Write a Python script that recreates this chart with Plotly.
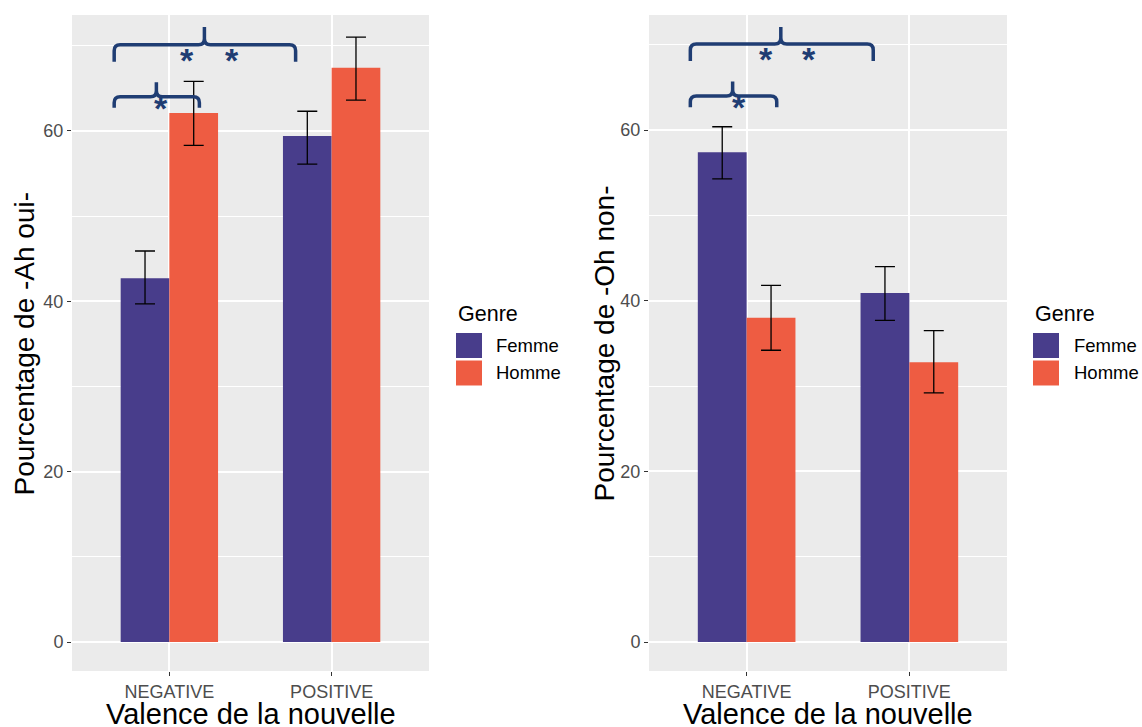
import plotly.graph_objects as go

# ---------------- data ----------------
categories = ["NEGATIVE", "POSITIVE"]
genres = ["Femme", "Homme"]
colors = {"Femme": "#483D8B", "Homme": "#EE5C42"}

# Panel 1 : "Ah oui"
ah_femme_mean = [42.7, 59.4]
ah_femme_low = [39.7, 56.1]
ah_femme_high = [45.9, 62.3]
ah_homme_mean = [62.1, 67.4]
ah_homme_low = [58.3, 63.6]
ah_homme_high = [65.8, 71.0]

# Panel 2 : "Oh non"
oh_femme_mean = [57.4, 40.9]
oh_femme_low = [54.3, 37.7]
oh_femme_high = [60.4, 44.0]
oh_homme_mean = [38.0, 32.8]
oh_homme_low = [34.2, 29.2]
oh_homme_high = [41.8, 36.5]

y_ticks = [0, 20, 40, 60]
y_title_1 = "Pourcentage de -Ah oui-"
y_title_2 = "Pourcentage de -Oh non-"
x_title = "Valence de la nouvelle"
legend_title = "Genre"

# significance braces: (x_left, x_right, x_tip, y_horizontal, y_ends, y_tip)
braces_1 = [(0.660, 1.778, 1.216, 70.1, 68.1, 72.2), (0.660, 1.185, 0.920, 64.0, 62.7, 65.7)]
braces_2 = [(0.654, 1.778, 1.210, 70.1, 68.1, 72.1), (0.654, 1.185, 0.914, 64.0, 62.7, 65.7)]
# stars: (x, y)
stars_1 = [(1.111, 68.9), (1.389, 68.9), (0.951, 63.3)]
stars_2 = [(1.117, 68.9), (1.383, 68.9), (0.951, 63.3)]

# ---------------- figure ----------------
W, H = 1142, 727
FONT = "Liberation Sans, Arial, sans-serif"
BRACE_COLOR = "#1f3d73"


def px(x):
    return x / W


def py(y):
    return 1 - y / H


xpos = [i + 1 for i in range(len(categories))]

fig = go.Figure()


def add_bars(mean, low, high, name, xa, ya):
    fig.add_trace(go.Bar(
        x=xpos, y=mean, name=name, marker_color=colors[name], marker_line_width=0,
        xaxis=xa, yaxis=ya, showlegend=False,
        error_y=dict(type="data", symmetric=False,
                     array=[h - m for h, m in zip(high, mean)],
                     arrayminus=[m - l for m, l in zip(mean, low)],
                     color="black", thickness=1.3, width=10),
    ))


add_bars(ah_femme_mean, ah_femme_low, ah_femme_high, "Femme", "x", "y")
add_bars(ah_homme_mean, ah_homme_low, ah_homme_high, "Homme", "x", "y")
add_bars(oh_femme_mean, oh_femme_low, oh_femme_high, "Femme", "x2", "y2")
add_bars(oh_homme_mean, oh_homme_low, oh_homme_high, "Homme", "x2", "y2")

ydom = [py(671), py(15)]
xaxis_common = dict(
    range=[0.4, 2.6], tickvals=xpos, ticktext=categories, showgrid=True,
    gridcolor="white", gridwidth=1.6, zeroline=False, showline=False,
    ticks="outside", ticklen=4, tickwidth=1.1, tickcolor="#333333",
    tickfont=dict(family=FONT, size=18, color="#4d4d4d"), automargin=False,
    fixedrange=True,
)
yaxis_common = dict(
    tickvals=y_ticks, showgrid=True, gridcolor="white", gridwidth=1.6,
    zeroline=False, showline=False, ticks="outside", ticklen=4, tickwidth=1.1,
    tickcolor="#333333", tickfont=dict(family=FONT, size=18, color="#4d4d4d"),
    minor=dict(dtick=10, showgrid=True, gridcolor="white", gridwidth=0.8, ticks=""),
    automargin=False, domain=ydom, fixedrange=True,
)

fig.update_layout(
    width=W, height=H, margin=dict(l=0, r=0, t=0, b=0),
    paper_bgcolor="white", plot_bgcolor="#EBEBEB",
    barmode="group", bargap=0.4, bargroupgap=0,
    showlegend=False, template="none",
    font=dict(family=FONT),
    xaxis=dict(domain=[px(72), px(429)], anchor="y", **xaxis_common),
    yaxis=dict(anchor="x", range=[-3.4, 73.6], **yaxis_common),
    xaxis2=dict(domain=[px(649), px(1007)], anchor="y2", **xaxis_common),
    yaxis2=dict(anchor="x2", range=[-3.4, 73.5], **yaxis_common),
)


def brace_path(x0, x1, xt, yh, ye, yt, rx=0.037, ry=0.7):
    return (f"M {x0},{ye} L {x0},{yh - ry} Q {x0},{yh} {x0 + rx},{yh} "
            f"L {xt - rx},{yh} Q {xt},{yh} {xt},{yh + ry} L {xt},{yt} "
            f"M {xt},{yh + ry} Q {xt},{yh} {xt + rx},{yh} "
            f"L {x1 - rx},{yh} Q {x1},{yh} {x1},{yh - ry} L {x1},{ye}")


shapes = []
annotations = []
for braces, stars, xr, yr in [(braces_1, stars_1, "x", "y"), (braces_2, stars_2, "x2", "y2")]:
    for b in braces:
        shapes.append(dict(type="path", path=brace_path(*b), xref=xr, yref=yr,
                           line=dict(color=BRACE_COLOR, width=3.5)))
    for sx, sy in stars:
        annotations.append(dict(x=sx, y=sy, xref=xr, yref=yr, text="<b>*</b>",
                                showarrow=False, yshift=-5,
                                font=dict(family=FONT, size=34, color=BRACE_COLOR)))

# axis titles
for cx in [(72 + 429) / 2, (649 + 1007) / 2]:
    annotations.append(dict(x=px(cx), y=py(714), xref="paper", yref="paper",
                            text=x_title, showarrow=False, xanchor="center", yanchor="middle",
                            font=dict(family=FONT, size=29, color="black")))
for cx, ytitle in [(24, y_title_1), (604, y_title_2)]:
    annotations.append(dict(x=px(cx), y=py(343.5), xref="paper", yref="paper",
                            text=ytitle, showarrow=False, textangle=-90,
                            xanchor="center", yanchor="middle",
                            font=dict(family=FONT, size=28, color="black")))

# legends (one per panel)
for lx, tx in [(456, 494), (1033, 1072)]:
    annotations.append(dict(x=px(lx), y=py(314), xref="paper", yref="paper",
                            text=legend_title, showarrow=False, xanchor="left", yanchor="middle",
                            font=dict(family=FONT, size=21.5, color="black")))
    for i, g in enumerate(genres):
        top = 333 + i * 27.5
        shapes.append(dict(type="rect", xref="paper", yref="paper",
                           x0=px(lx), x1=px(lx + 26), y0=py(top + 25), y1=py(top),
                           fillcolor=colors[g], line=dict(width=0)))
        annotations.append(dict(x=px(tx), y=py(top + 12.5), xref="paper", yref="paper",
                                text=g, showarrow=False, xanchor="left", yanchor="middle",
                                font=dict(family=FONT, size=18.5, color="black")))

fig.update_layout(shapes=shapes, annotations=annotations)
fig.write_html(
    "out.html",
    config={"displayModeBar": False},
    post_script="document.body.style.margin='0';document.body.style.overflow='hidden';",
)
